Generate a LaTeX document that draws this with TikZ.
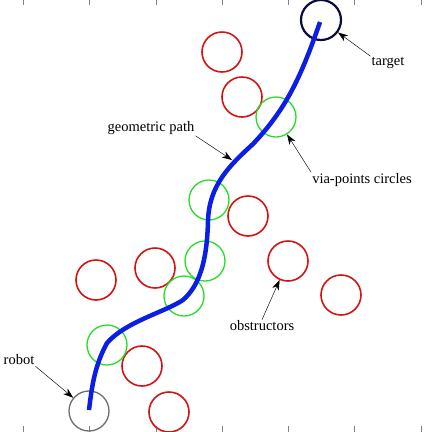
\documentclass[tikz,border=0pt]{standalone}
\usepackage{fontspec}
\setmainfont{Liberation Serif}
\usetikzlibrary{arrows.meta}
\definecolor{obstred}{RGB}{210,20,20}
\definecolor{viagreen}{RGB}{40,220,40}
\definecolor{pathblue}{RGB}{10,30,230}
\definecolor{targetnavy}{RGB}{10,10,60}
\definecolor{robotgray}{RGB}{110,110,110}
\tikzset{
  ring/.style={circle, minimum size=40pt, inner sep=0pt},
  obst/.style={ring, draw=obstred, line width=1.6pt},
  via/.style={ring, draw=viagreen, line width=1.3pt},
  lbl/.style={font=\fontsize{14.5}{17}\selectfont, inner sep=1pt},
  pointer/.style={line width=0.45pt, -{Stealth[length=10pt,width=7pt,inset=3pt]}},
}
\begin{document}
\begin{tikzpicture}[x=1pt,y=-1pt]
                \useasboundingbox (0,0) rectangle (432,432);
                
                % Drawing ticks
                \foreach \tx in {23,89,156,222,288,354,421} {
                  \draw [line width=0.4pt, gray] (\tx,0) -- (\tx,5);
                  \draw [line width=0.4pt, gray] (\tx,426) -- (\tx,432);
                }
                
                % Marking obstructors by circles
                \node [obst] (o1) at (222,52) {};
                \node [obst] (o2) at (242,97) {};
                \node [obst] (o3) at (248,216) {};
                \node [obst] (o4) at (155,268) {};
                \node [obst] (o5) at (288,261) {};
                \node [obst] (o6) at (96,280) {};
                \node [obst] (o7) at (341,295) {};
                \node [obst] (o8) at (142,366) {};
                \node [obst] (o9) at (169,412) {};
                
                % Marking via-points by circles
                \node [via] (v1) at (276,117) {};
                \node [via] (v2) at (209,200) {};
                \node [via] (v3) at (205,261) {};
                \node [via] (v4) at (184,296) {};
                \node [via] (v5) at (107,345) {};
                
                % Marking robot and target
                \node [ring, draw=robotgray, line width=1.3pt] (robot) at (89,411) {};
                \node [ring, draw=targetnavy, line width=2.2pt] (target) at (321,20) {};
                
                % Drawing geometric path
                \draw [pathblue, line width=4.5pt]
                  (89,410) .. controls (92,385) and (95,365) .. (107,343)
                  .. controls (125,322) and (165,312) .. (183,300)
                  .. controls (200,285) and (207,260) .. (208,221)
                  .. controls (209,185) and (230,165) .. (253,144)
                  .. controls (285,110) and (300,80) .. (320,22);
                \coordinate (onpath) at (232,160);
                
                % Labels
                \node [lbl] (ltarget) at (388,63) {target};
                \node [lbl] (lgeo) at (151,128) {geometric path};
                \node [lbl] (lvia) at (362,180) {via-points circles};
                \node [lbl] (lobst) at (262,326) {obstructors};
                \node [lbl] (lrobot) at (19,360) {robot};
                
                % Drawing pointers
                \draw [pointer] (ltarget.north west) -- (target);
                \draw [pointer] (lgeo.south east) -- (onpath);
                \draw [pointer] (lvia.north west) -- (v1);
                \draw [pointer] (lobst.north) -- (o5);
                \draw [pointer] (lrobot.south east) -- (robot);
\end{tikzpicture}
\end{document}
